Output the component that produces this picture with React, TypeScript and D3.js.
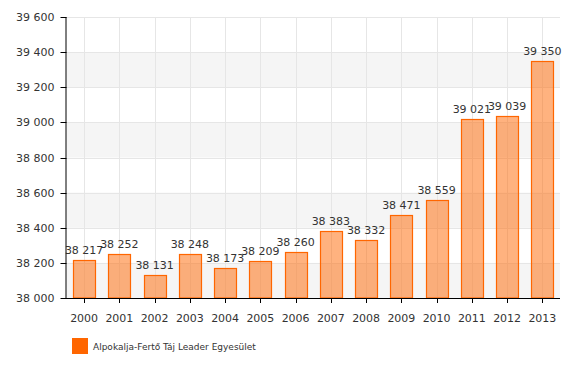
import React, { useRef, useEffect } from 'react';
import * as d3 from 'd3';

const years = ['2000', '2001', '2002', '2003', '2004', '2005', '2006', '2007', '2008', '2009', '2010', '2011', '2012', '2013'];
const population = [38217, 38252, 38131, 38248, 38173, 38209, 38260, 38383, 38332, 38471, 38559, 39021, 39039, 39350];
const yTicks = [38000, 38200, 38400, 38600, 38800, 39000, 39200, 39400, 39600];
const seriesName = 'Alpokalja-Fertő Táj Leader Egyesület';

const fmt = (v: number) => d3.format(',')(v).replace(/,/g, ' ');

const App = () => {
  const svgRef = useRef<SVGSVGElement>(null);

  useEffect(() => {
    const width = 579;
    const height = 366;
    const svg = d3.select(svgRef.current);
    svg.selectAll('*').remove();
    svg.attr('width', width).attr('height', height).style('display', 'block');

    const font = 'DejaVu Sans, Verdana, sans-serif';
    const left = 66.5, right = 560, top = 17, bottom = 298;

    const x = d3.scaleBand().domain(years).range([left, right]).paddingInner(0.37).paddingOuter(0.185);
    const y = d3.scaleLinear().domain([38000, 39600]).range([bottom, top]);
    const step = x.step();
    const cx = (d: string) => (x(d) as number) + x.bandwidth() / 2;

    // alternating bands
    const g = svg.append('g');
    for (let i = 0; i < yTicks.length - 1; i += 2) {
      g.append('rect')
        .attr('x', left)
        .attr('y', y(yTicks[i + 1]))
        .attr('width', right - left)
        .attr('height', y(yTicks[i]) - y(yTicks[i + 1]))
        .attr('fill', '#f5f5f5');
    }

    // grid
    g.selectAll('.hgrid').data(yTicks).enter().append('line')
      .attr('x1', left).attr('x2', right)
      .attr('y1', d => Math.round(y(d)) + 0.5).attr('y2', d => Math.round(y(d)) + 0.5)
      .attr('stroke', '#e6e6e6');
    g.selectAll('.vgrid').data(years).enter().append('line')
      .attr('x1', d => Math.round(cx(d)) + 0.5).attr('x2', d => Math.round(cx(d)) + 0.5)
      .attr('y1', top).attr('y2', bottom)
      .attr('stroke', '#e6e6e6');

    // bars
    g.selectAll('.bar').data(population).enter().append('rect')
      .attr('x', (d, i) => Math.round(x(years[i]) as number) + 0.5)
      .attr('y', d => Math.round(y(d)) + 0.5)
      .attr('width', Math.round(x.bandwidth()))
      .attr('height', d => bottom - Math.round(y(d)) - 0.5)
      .attr('fill', 'rgba(255,102,0,0.5)')
      .attr('stroke', '#ff6600')
      .attr('stroke-width', 1.2);

    // value labels
    g.selectAll('.lbl').data(population).enter().append('text')
      .attr('x', (d, i) => cx(years[i]))
      .attr('y', d => y(d) - 6)
      .attr('text-anchor', 'middle')
      .attr('font-family', font)
      .attr('font-size', 11)
      .attr('fill', '#333')
      .text(d => fmt(d));

    // axes
    g.append('line').attr('x1', left - 0.5).attr('x2', left - 0.5).attr('y1', top).attr('y2', bottom + 0.5)
      .attr('stroke', '#000');
    g.append('line').attr('x1', left - 0.5).attr('x2', right).attr('y1', bottom + 0.5).attr('y2', bottom + 0.5)
      .attr('stroke', '#000');

    g.selectAll('.ytick').data(yTicks).enter().append('line')
      .attr('x1', left - 6).attr('x2', left)
      .attr('y1', d => Math.round(y(d)) + 0.5).attr('y2', d => Math.round(y(d)) + 0.5)
      .attr('stroke', '#000');
    g.selectAll('.ylbl').data(yTicks).enter().append('text')
      .attr('x', left - 12)
      .attr('y', d => y(d) + 4)
      .attr('text-anchor', 'end')
      .attr('font-family', font)
      .attr('font-size', 11)
      .attr('fill', '#333')
      .text(d => fmt(d));

    g.selectAll('.xtick').data(years).enter().append('line')
      .attr('x1', d => Math.round(cx(d)) + 0.5).attr('x2', d => Math.round(cx(d)) + 0.5)
      .attr('y1', bottom).attr('y2', bottom + 5)
      .attr('stroke', '#000');
    g.selectAll('.xlbl').data(years).enter().append('text')
      .attr('x', d => cx(d))
      .attr('y', bottom + 24)
      .attr('text-anchor', 'middle')
      .attr('font-family', font)
      .attr('font-size', 11)
      .attr('fill', '#333')
      .text(d => d);

    // legend
    g.append('rect').attr('x', 72).attr('y', 338).attr('width', 16).attr('height', 16).attr('fill', '#ff6600');
    g.append('text').attr('x', 93).attr('y', 350)
      .attr('font-family', font).attr('font-size', 9).attr('fill', '#333')
      .text(seriesName);

    void step;
  }, []);

  return <svg ref={svgRef} style={{ position: 'absolute', left: 0, top: 0 }}></svg>;
};

export default App;
